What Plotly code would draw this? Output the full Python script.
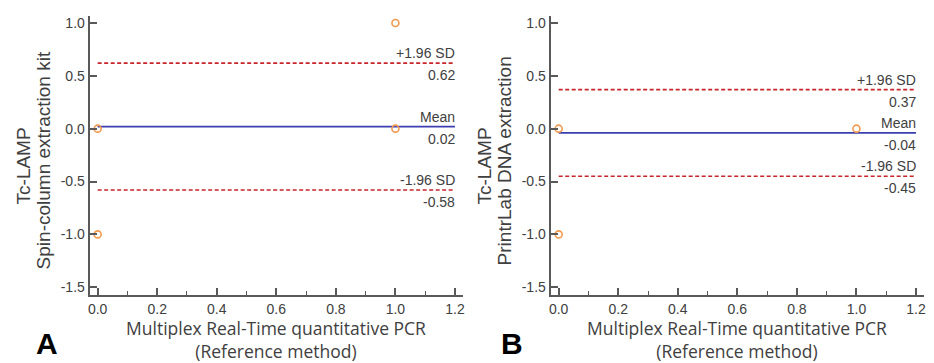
import plotly.graph_objects as go

# ---- data ----
x_a = [0, 0, 1, 1]
y_a = [0, -1, 1, 0]
x_b = [0, 0, 1]
y_b = [0, -1, 0]
stats_a = {"upper": 0.62, "mean": 0.02, "lower": -0.58}
stats_b = {"upper": 0.37, "mean": -0.04, "lower": -0.45}
line_x = [0, 1.2]
x_ticks = [0.0, 0.2, 0.4, 0.6, 0.8, 1.0, 1.2]
x_ticktext = ["0.0", "0.2", "0.4", "0.6", "0.8", "1.0", "1.2"]
x_minor = [0.1, 0.3, 0.5, 0.7, 0.9, 1.1]
y_ticks = [1.0, 0.5, 0.0, -0.5, -1.0, -1.5]
y_ticktext = ["1.0", "0.5", "0.0", "-0.5", "-1.0", "-1.5"]
ytitle_a = ["Tc-LAMP", "Spin-column extraction kit"]
ytitle_b = ["Tc-LAMP", "PrintrLab DNA extraction"]
xtitle = ["Multiplex Real-Time quantitative PCR", "(Reference method)"]
panel_letters = ["A", "B"]

ORANGE = "#f39a4f"
RED = "#c8252b"
BLUE = "#3c3fb0"
AXIS = "#595959"
TXT = "#404040"
ARIAL = "Liberation Sans, Arial, sans-serif"
GEOM = "Open Sans, sans-serif"

fig = go.Figure()

panels = [
    ("x", "y", x_a, y_a, stats_a),
    ("x2", "y2", x_b, y_b, stats_b),
]
for xr, yr, px, py, st in panels:
    for key in ("upper", "lower"):
        fig.add_trace(go.Scatter(x=line_x, y=[st[key]] * 2, mode="lines",
                                 line=dict(color=RED, width=1.7, dash="4px,2.5px"),
                                 xaxis=xr, yaxis=yr, showlegend=False, hoverinfo="skip"))
    fig.add_trace(go.Scatter(x=line_x, y=[st["mean"]] * 2, mode="lines",
                             line=dict(color=BLUE, width=1.7),
                             xaxis=xr, yaxis=yr, showlegend=False, hoverinfo="skip"))
    fig.add_trace(go.Scatter(x=px, y=py, mode="markers",
                             marker=dict(symbol="circle-open", size=7, color=ORANGE,
                                         line=dict(width=1.6, color=ORANGE)),
                             xaxis=xr, yaxis=yr, showlegend=False))
    for key, lab in [("upper", "+1.96 SD"), ("mean", "Mean"), ("lower", "-1.96 SD")]:
        v = st[key]
        fig.add_annotation(x=1.2, y=v, xref=xr, yref=yr, text=lab, showarrow=False,
                           xanchor="right", yanchor="bottom", yshift=0, xshift=2,
                           font=dict(family=ARIAL, size=14, color=TXT))
        fig.add_annotation(x=1.2, y=v, xref=xr, yref=yr, text=f"{v:.2f}",
                           showarrow=False, xanchor="right", yanchor="top", yshift=-2, xshift=2,
                           font=dict(family=ARIAL, size=14, color=TXT))

xrange = [-0.027, 1.227]
yrange = [-1.575, 1.066]
common_x = dict(range=xrange, showline=True, linecolor=AXIS, linewidth=2, showgrid=False,
                zeroline=False, ticks="inside", ticklen=7, tickwidth=1.5, tickcolor=AXIS,
                tickvals=x_ticks, ticktext=x_ticktext,
                minor=dict(tickvals=x_minor, ticks="inside",
                           ticklen=4, tickwidth=1.2, tickcolor=AXIS),
                tickfont=dict(family=ARIAL, size=14, color=TXT), fixedrange=True)
common_y = dict(range=yrange, showline=True, linecolor=AXIS, linewidth=2, showgrid=False,
                zeroline=False, ticks="inside", ticklen=7, tickwidth=1.5, tickcolor=AXIS,
                tickvals=y_ticks, ticktext=y_ticktext,
                tickfont=dict(family=ARIAL, size=14, color=TXT), fixedrange=True)

ydom = [68 / 363, 348 / 363]
fig.update_layout(
    width=934, height=363,
    margin=dict(l=0, r=0, t=0, b=0),
    paper_bgcolor="white", plot_bgcolor="white",
    xaxis=dict(domain=[88 / 934, 463 / 934], anchor="y", **common_x),
    yaxis=dict(domain=ydom, anchor="x", **common_y),
    xaxis2=dict(domain=[551 / 934, 926 / 934], anchor="y2", **common_x),
    yaxis2=dict(domain=ydom, anchor="x2", **common_y),
)

# axis titles and panel letters
for left, cx, ytl, letter, lx in [(88, 275.5, ytitle_a, panel_letters[0], 45),
                                   (551, 738.5, ytitle_b, panel_letters[1], 512)]:
    fig.add_annotation(x=(left - 66) / 934, y=(363 - 165) / 363,
                       xref="paper", yref="paper", text=ytl[0], textangle=-90, showarrow=False,
                       xanchor="center", yanchor="middle",
                       font=dict(family=ARIAL, size=19, color=TXT))
    fig.add_annotation(x=(left - 46) / 934, y=(363 - 160) / 363,
                       xref="paper", yref="paper", text=ytl[1], textangle=-90, showarrow=False,
                       xanchor="center", yanchor="middle",
                       font=dict(family=ARIAL, size=19, color=TXT))
    fig.add_annotation(x=cx / 934, y=0, xref="paper", yref="paper",
                       text="<br>".join(xtitle), showarrow=False, xanchor="center",
                       yanchor="bottom", borderpad=0, yshift=-1,
                       font=dict(family=GEOM, size=17.5, color=TXT))
    fig.add_annotation(x=lx / 934, y=(363 - 343) / 363, xref="paper", yref="paper",
                       text=f"<b>{letter}</b>", showarrow=False, xanchor="center", yanchor="middle",
                       font=dict(family=ARIAL, size=30, color="black"))

fig.write_html("out.html", config={"displayModeBar": False},
               post_script="document.body.style.margin='0';document.body.style.overflow='hidden';")
